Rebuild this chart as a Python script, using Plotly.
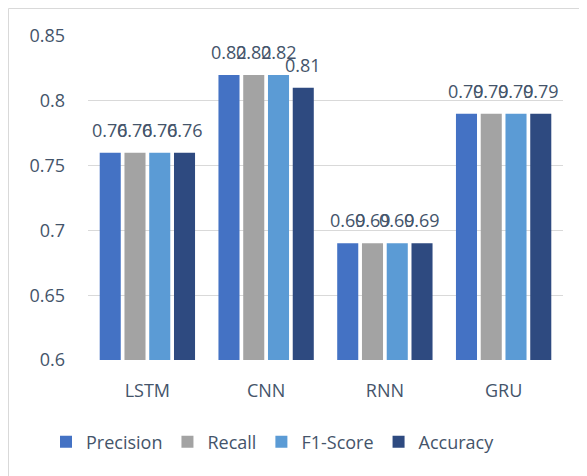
import plotly.graph_objects as go

categories = ["LSTM", "CNN", "RNN", "GRU"]
series_names = ["Precision", "Recall", "F1-Score", "Accuracy"]
precision = [0.76, 0.82, 0.69, 0.79]
recall = [0.76, 0.82, 0.69, 0.79]
f1_score = [0.76, 0.82, 0.69, 0.79]
accuracy = [0.76, 0.81, 0.69, 0.79]
y_ticks = [0.6, 0.65, 0.7, 0.75, 0.8, 0.85]
y_tick_labels = ["0.6", "0.65", "0.7", "0.75", "0.8", "0.85"]

colors = ["#4472C4", "#A3A3A3", "#5B9BD5", "#2E4A80"]
values = [precision, recall, f1_score, accuracy]

FONT = "Open Sans"
TXT = "#44546A"
FS = 18
BARGAP = 0.166
BARGROUPGAP = 0.15

fig = go.Figure()
for name, vals, col in zip(series_names, values, colors):
    fig.add_trace(go.Bar(
        x=categories, y=vals, name=name,
        marker=dict(color=col, line=dict(width=0)),
        cliponaxis=False,
    ))

# data labels above each bar (annotations so they can sit a little higher)
n = len(series_names)
slot = (1 - BARGAP) / n
annotations = []
for i, vals in enumerate(values):
    off = -(1 - BARGAP) / 2 + slot * (i + 0.5)
    for j, v in enumerate(vals):
        annotations.append(dict(
            x=j + off, y=v, xref="x", yref="y", text=f"{v:g}",
            showarrow=False, yanchor="bottom", xanchor="center", yshift=9,
            font=dict(family=FONT, size=FS, color=TXT)))

# page body has an 8px margin, so layout pixels are offset by 8
L, R, T, B = 80, 32, 28, 124
W, H = 587, 476
pw, ph = W - L - R, H - T - B

fig.update_layout(
    width=W, height=H,
    margin=dict(l=L, r=R, t=T, b=B, autoexpand=False),
    paper_bgcolor="white", plot_bgcolor="white",
    barmode="group", bargap=BARGAP, bargroupgap=BARGROUPGAP,
    font=dict(family=FONT, size=FS, color=TXT),
    showlegend=True,
    legend=dict(orientation="h", x=(38 - L) / pw, xanchor="left",
                y=(352 - 434) / ph, yanchor="middle",
                font=dict(family=FONT, size=FS, color=TXT),
                traceorder="normal"),
    yaxis=dict(range=[0.6, 0.85], tickvals=y_ticks, ticktext=y_tick_labels,
               showgrid=True, gridcolor="#D9D9D9", gridwidth=1,
               zeroline=False, showline=False, ticks="",
               automargin=False,
               ticklabelstandoff=22,
               tickfont=dict(family=FONT, size=FS, color=TXT)),
    xaxis=dict(showgrid=False, zeroline=False, showline=False, ticks="",
               automargin=False, range=[-0.5, len(categories) - 0.5],
               ticklabelstandoff=18,
               tickfont=dict(family=FONT, size=FS, color=TXT)),
    annotations=annotations,
    shapes=[dict(type="rect", xref="paper", yref="paper",
                 x0=(0.5 - L) / pw, x1=(W + 20 - L) / pw,
                 y0=-(B + 20) / ph, y1=(T - 0.5 + ph) / ph,
                 line=dict(color="#D9D9D9", width=1), fillcolor="rgba(0,0,0,0)",
                 layer="below")],
)

fig.write_html("out.html")
